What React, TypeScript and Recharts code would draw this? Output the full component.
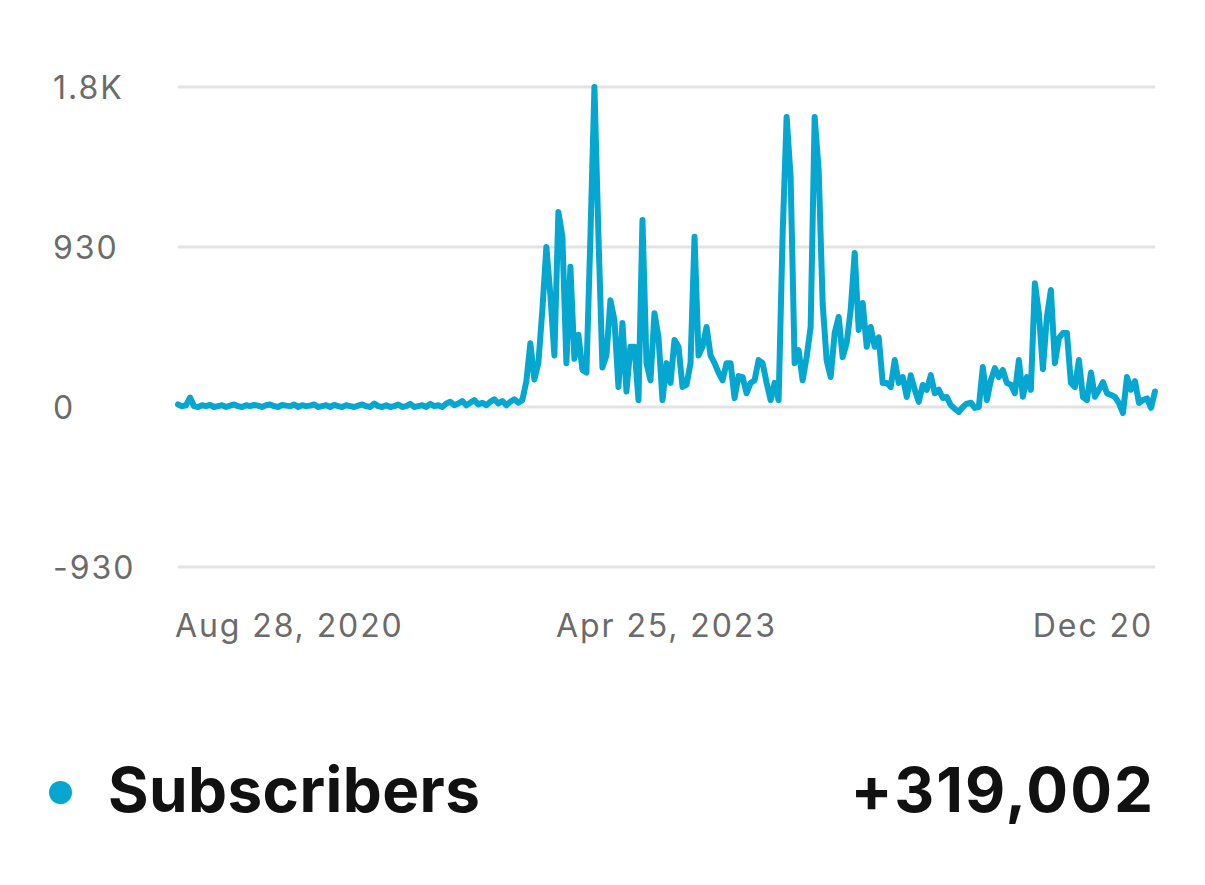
import React from "react";
import { LineChart, Line, XAxis, YAxis, CartesianGrid } from "recharts";

// weekly net subscriber change, Aug 28 2020 .. Dec 20 2025
const subscribers = [
  15, 5, 10, 55, 5, 0, 10, 5, 12, 0,
  5, 10, 0, 8, 15, 5, 0, 10, 5, 12,
  8, 0, 10, 15, 5, 0, 12, 8, 5, 15,
  0, 10, 5, 8, 15, 0, 5, 10, 0, 12,
  5, 0, 10, 5, 0, 8, 15, 5, 0, 20,
  5, 0, 10, 0, 5, 15, 0, 5, 18, 0,
  5, 10, 0, 18, 5, 10, 0, 20, 30, 10,
  20, 35, 10, 25, 40, 15, 25, 10, 30, 45,
  20, 35, 10, 30, 45, 25, 40, 150, 370, 160,
  255, 565, 930, 650, 300, 1133, 990, 255, 815, 280,
  420, 215, 200, 990, 1860, 1000, 230, 300, 620, 505,
  116, 488, 90, 350, 350, 40, 1087, 255, 155, 545,
  405, 40, 255, 140, 390, 350, 116, 130, 255, 990,
  300, 350, 465, 300, 255, 200, 155, 255, 255, 52,
  180, 174, 80, 140, 155, 273, 255, 140, 40, 140,
  40, 1000, 1685, 1337, 255, 331, 155, 290, 465, 1685,
  1378, 600, 270, 174, 430, 523, 290, 372, 564, 895,
  448, 605, 350, 465, 350, 405, 140, 140, 116, 273,
  140, 174, 58, 185, 100, 30, 128, 100, 185, 80,
  100, 52, 58, 10, -10, -29, 0, 20, 25, -5,
  0, 232, 40, 155, 226, 174, 215, 140, 130, 80,
  273, 60, 174, 100, 720, 545, 220, 523, 680, 255,
  400, 430, 430, 140, 116, 273, 58, 40, 200, 60,
  100, 145, 80, 70, 58, 23, -35, 174, 100, 150,
  23, 40, 50, -5, 90,
];

const xTicks = [0, 122, 244];
const xTickLabels = ["Aug 28, 2020", "Apr 25, 2023", "Dec 20"];
const yTicks = [-930, 0, 930, 1860];
const yTickLabels = ["-930", "0", "930", "1.8K"];

const seriesName = "Subscribers";
const seriesTotal = "+319,002";

const LINE_COLOR = "#05a7d1";
const FONT = "Inter, Roboto, sans-serif";

const data = subscribers.map((v, i) => ({ idx: i, value: v }));

function YTick(props: any) {
  const { y, payload } = props;
  const label = yTickLabels[yTicks.indexOf(payload.value)];
  return (
    <text
      x={53}
      y={y + 12}
      textAnchor="start"
      fill="#6b6b6b"
      fontSize={32}
      fontFamily={FONT}
      letterSpacing={2}
    >
      {label}
    </text>
  );
}

function XTick(props: any) {
  const { x, payload } = props;
  const pos = xTicks.indexOf(payload.value);
  const anchor = pos === 0 ? "start" : pos === xTicks.length - 1 ? "end" : "middle";
  const dx = pos === 0 ? -3 : pos === xTicks.length - 1 ? -2 : 0;
  return (
    <text
      x={x + dx}
      y={637}
      textAnchor={anchor}
      fill="#6b6b6b"
      fontSize={32}
      fontFamily={FONT}
      letterSpacing={1.9}
    >
      {xTickLabels[pos]}
    </text>
  );
}

export default function App() {
  return (
    <div
      style={{
        position: "absolute",
        left: 0,
        top: 0,
        width: 1205,
        height: 885,
        background: "#fff",
        fontFamily: FONT,
      }}
    >
      <LineChart
        width={1205}
        height={680}
        data={data}
        margin={{ top: 87, right: 50, bottom: 53, left: 0 }}
      >
        <CartesianGrid vertical={false} stroke="#e3e3e3" strokeWidth={3} />
        <XAxis
          dataKey="idx"
          type="number"
          domain={[0, 244]}
          ticks={xTicks}
          axisLine={false}
          tickLine={false}
          height={60}
          tick={<XTick />}
          interval={0}
        />
        <YAxis
          domain={[-930, 1860]}
          ticks={yTicks}
          axisLine={false}
          tickLine={false}
          width={178}
          tick={<YTick />}
          interval={0}
        />
        <Line
          type="linear"
          dataKey="value"
          stroke={LINE_COLOR}
          strokeWidth={6}
          strokeLinejoin="round"
          strokeLinecap="round"
          dot={false}
          isAnimationActive={false}
        />
      </LineChart>
      <div
        style={{
          position: "absolute",
          left: 49,
          top: 781,
          width: 23,
          height: 23,
          borderRadius: "50%",
          background: LINE_COLOR,
        }}
      />
      <div
        style={{
          position: "absolute",
          left: 108,
          top: 754,
          fontSize: 62,
          fontWeight: 700,
          lineHeight: "72px",
          color: "#111",
          letterSpacing: 0.4,
        }}
      >
        {seriesName}
      </div>
      <div
        style={{
          position: "absolute",
          right: 50,
          top: 754,
          fontSize: 62,
          fontWeight: 700,
          lineHeight: "72px",
          color: "#111",
          letterSpacing: 2,
        }}
      >
        {seriesTotal}
      </div>
    </div>
  );
}
